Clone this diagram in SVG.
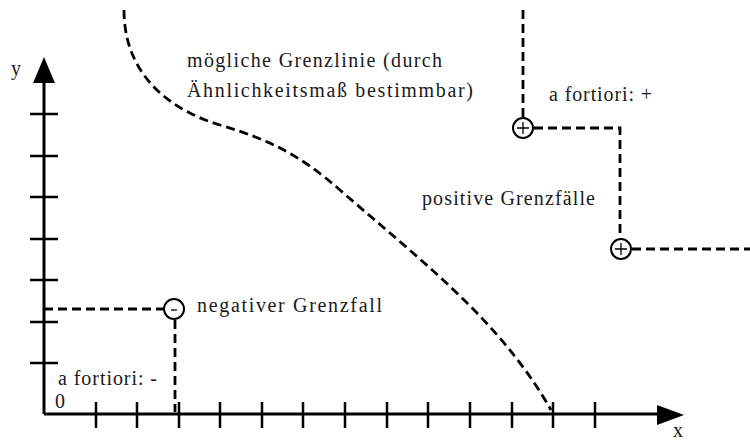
<svg xmlns="http://www.w3.org/2000/svg" width="750" height="440" viewBox="0 0 750 440">
<defs>
<marker id="unused" markerWidth="1" markerHeight="1"/>
</defs>
<rect width="750" height="440" fill="#fff"/>
<g id="axes">
<path d="M44,414 H660 M44,414 V82" stroke="#000" stroke-width="3" fill="none"/>
<polygon points="684,415 657,405 657,425" fill="#000"/>
<polygon points="44,57 33,83 55,83" fill="#000"/>
<path stroke="#000" stroke-width="2.5" d="M30,114H58M30,156H58M30,197H58M30,239H58M30,280H58M30,322H58M30,363H58"/>
<path stroke="#000" stroke-width="2.5" d="M96,402V428M137,402V428M179,402V428M220,402V428M262,402V428M303,402V428M345,402V428M387,402V428M428,402V428M470,402V428M512,402V428M553,402V428M595,402V428"/>
<text x="11" y="75" font-family="Liberation Serif" font-size="20" fill="#1a1a1a">y</text>
<text x="673" y="437" font-family="Liberation Serif" font-size="20" fill="#1a1a1a">x</text>
<text x="55" y="408" font-family="Liberation Serif" font-size="20" fill="#1a1a1a">0</text>
</g>
<g id="connectors" stroke="#000" stroke-width="2.8" fill="none" stroke-dasharray="9 5">
<path d="M124,10 C124,75 170,110 220,125 C270,140 300,155 340,190 C420,260 500,320 551,410"/>
<path d="M44,309 H163 M175,320 V412"/>
<path d="M523,10 V117 M534,128 H620 V238 M632,249 H750"/>
</g>
<g id="neg">
<circle cx="174" cy="309" r="10" stroke="#000" stroke-width="2" fill="#fff"/>
<path d="M171,310H177" stroke="#000" stroke-width="1.3"/>
<text x="197" y="312" font-family="Liberation Serif" font-size="20" fill="#1a1a1a" textLength="185" lengthAdjust="spacing">negativer Grenzfall</text>
<text x="58" y="385" font-family="Liberation Serif" font-size="20" fill="#1a1a1a" textLength="99" lengthAdjust="spacing">a fortiori: -</text>
</g>
<g id="pos1">
<circle cx="523" cy="128" r="10" stroke="#000" stroke-width="2" fill="#fff"/>
<path d="M517,128H529M523,122V134" stroke="#000" stroke-width="1.3"/>
<text x="549" y="101" font-family="Liberation Serif" font-size="20" fill="#1a1a1a" textLength="103" lengthAdjust="spacing">a fortiori: +</text>
</g>
<g id="pos2">
<circle cx="621" cy="249" r="10" stroke="#000" stroke-width="2" fill="#fff"/>
<path d="M615,249H627M621,243V255" stroke="#000" stroke-width="1.3"/>
</g>
<g id="labels">
<text x="422" y="205" font-family="Liberation Serif" font-size="20" fill="#1a1a1a" textLength="173" lengthAdjust="spacing">positive Grenzfälle</text>
<text x="187" y="67" font-family="Liberation Serif" font-size="20" fill="#1a1a1a" textLength="255" lengthAdjust="spacing">mögliche Grenzlinie (durch</text>
<text x="187" y="97" font-family="Liberation Serif" font-size="20" fill="#1a1a1a" textLength="286" lengthAdjust="spacing">Ähnlichkeitsmaß bestimmbar)</text>
</g>
</svg>
